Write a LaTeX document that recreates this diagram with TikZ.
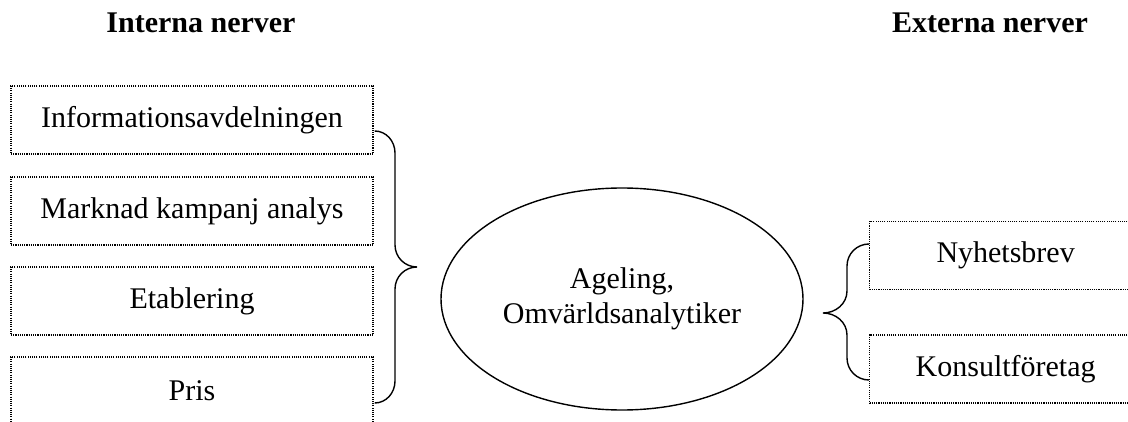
\documentclass[tikz,border=0pt]{standalone}
\usepackage{fontspec}
\setmainfont{Liberation Serif}
\usetikzlibrary{shapes.geometric,calc}
\begin{document}
\begin{tikzpicture}[x=1pt,y=-1pt,
  every node/.style={font=\fontsize{30}{34.5}\selectfont},
  dotbox/.style={draw,line width=1.3pt,dash pattern=on 1.1pt off 1.1pt,
    rectangle,inner sep=0pt,minimum height=68pt},
  leftbox/.style={dotbox,minimum width=362pt},
  rightbox/.style={dotbox,minimum width=272pt,anchor=west},
  header/.style={font=\fontsize{30}{34.5}\selectfont\bfseries,anchor=base,inner sep=0pt},
  brace/.style={draw,line width=1.4pt},
  hub/.style={draw,ellipse,line width=1.4pt,inner sep=0pt,
    minimum width=362pt,minimum height=222pt,align=center}]
\useasboundingbox (0,0) rectangle (1128,422);
\clip (0,0) rectangle (1128,422);

% column headings
\node[header] (hin) at (201,33) {Interna nerver};
\node[header] (hex) at (990,33) {Externa nerver};

% internal sources
\node[leftbox] (b1) at (192,120) {Informationsavdelningen};
\node[leftbox] (b2) at (192,211) {Marknad kampanj analys};
\node[leftbox] (b3) at (192,301) {Etablering};
\node[leftbox] (b4) at (192,391) {Pris};

% central role
\node[hub] (c) at (622,299) {Ageling,\\Omvärldsanalytiker};

% external sources
\node[rightbox] (e1) at (869,255.5) {Nyhetsbrev};
\node[rightbox] (e2) at (869,369) {Konsultföretag};

% brace gathering the internal sources
\coordinate (lt) at ($(b1.east)+(1,11)$);
\coordinate (lb) at ($(b4.east)+(1,12)$);
\coordinate (ltip) at (417,267);
\draw[brace] (lt) to[out=0,in=90] (395,153) -- (395,245)
  to[out=-90,in=180] (ltip) to[out=180,in=90] (395,289) -- (395,381)
  to[out=-90,in=0] (lb);

% brace gathering the external sources
\coordinate (rt) at ($(e1.west)+(0,-11.5)$);
\coordinate (rb) at ($(e2.west)+(0,11)$);
\coordinate (rtip) at (823,313);
\draw[brace] (rt) to[out=180,in=90] (847,266) -- (847,291)
  to[out=-90,in=0] (rtip) to[out=0,in=90] (847,335) -- (847,358)
  to[out=-90,in=180] (rb);
\end{tikzpicture}
\end{document}
